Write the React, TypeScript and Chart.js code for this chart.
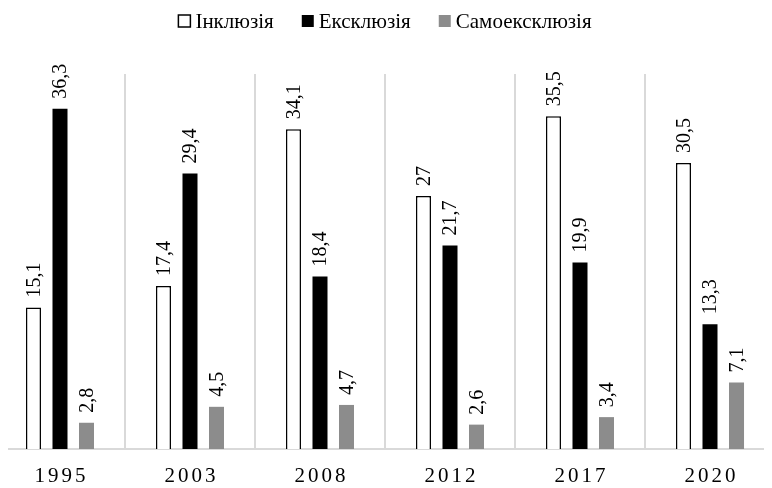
import React, { useEffect, useRef } from "react";
import { Chart, registerables } from "chart.js";

Chart.register(...registerables);

const categories = ["1995", "2003", "2008", "2012", "2017", "2020"];
const seriesNames = ["Інклюзія", "Ексклюзія", "Самоексклюзія"];
const inclusion = [15.1, 17.4, 34.1, 27, 35.5, 30.5];
const exclusion = [36.3, 29.4, 18.4, 21.7, 19.9, 13.3];
const selfExclusion = [2.8, 4.5, 4.7, 2.6, 3.4, 7.1];

const FONT = '"Liberation Serif", "Times New Roman", serif';
const GRAY = "#8c8c8c";
const GRID = "#d9d9d9";

const fmt = (v: number) => String(v).replace(".", ",");

const customPlugin = {
  id: "customDraw",
  afterDraw(chart: any) {
    const ctx = chart.ctx as CanvasRenderingContext2D;
    // data labels
    ctx.save();
    ctx.fillStyle = "#000";
    ctx.font = `20px ${FONT}`;
    ctx.textAlign = "left";
    ctx.textBaseline = "middle";
    chart.data.datasets.forEach((ds: any, di: number) => {
      const meta = chart.getDatasetMeta(di);
      meta.data.forEach((bar: any, i: number) => {
        ctx.save();
        ctx.translate(bar.x + 1, bar.y - 10);
        ctx.rotate(-Math.PI / 2);
        ctx.fillText(fmt(ds.data[i]), 0, 0);
        ctx.restore();
      });
    });
    ctx.restore();

    // x labels with letter spacing
    const xs = chart.scales.x;
    ctx.save();
    ctx.fillStyle = "#000";
    ctx.font = `21px ${FONT}`;
    (ctx as any).letterSpacing = "3px";
    ctx.textAlign = "center";
    ctx.textBaseline = "middle";
    categories.forEach((c, i) => {
      const x = xs.getPixelForTick(i);
      ctx.fillText(c, x + 1.5, chart.chartArea.bottom + 27);
    });
    ctx.restore();

    // legend
    ctx.save();
    ctx.font = `21px ${FONT}`;
    ctx.textBaseline = "middle";
    ctx.textAlign = "left";
    const box = 12;
    const gapText = 5;
    const gapItem = 28;
    const widths = chart.data.datasets.map((ds: any) => box + gapText + ctx.measureText(ds.label).width);
    const total = widths.reduce((a: number, b: number) => a + b, 0) + gapItem * (widths.length - 1);
    let x = (chart.width - total) / 2;
    const cy = 13;
    chart.data.datasets.forEach((ds: any, di: number) => {
      ctx.fillStyle = ds.backgroundColor;
      ctx.fillRect(x, cy - box / 2, box, box);
      if (ds.borderWidth) {
        ctx.strokeStyle = ds.borderColor;
        ctx.lineWidth = 1.5;
        ctx.strokeRect(x, cy - box / 2, box, box);
      }
      ctx.fillStyle = "#000";
      ctx.fillText(ds.label, x + box + gapText, cy + 1);
      x += widths[di] + gapItem;
    });
    ctx.restore();
  },
};

export default function App() {
  const ref = useRef<HTMLCanvasElement>(null);
  useEffect(() => {
    if (!ref.current) return;
    const common = { categoryPercentage: 0.612, barPercentage: 0.566 };
    const chart = new Chart(ref.current, {
      type: "bar",
      data: {
        labels: categories,
        datasets: [
          { label: seriesNames[0], data: inclusion, backgroundColor: "#ffffff", borderColor: "#000000", borderWidth: 1.5, ...common },
          { label: seriesNames[1], data: exclusion, backgroundColor: "#000000", borderWidth: 0, ...common },
          { label: seriesNames[2], data: selfExclusion, backgroundColor: GRAY, borderWidth: 0, ...common },
        ],
      },
      options: {
        responsive: false,
        animation: false,
        devicePixelRatio: 1,
        layout: { padding: { top: 66, left: 0, right: 0, bottom: 0 } },
        plugins: { legend: { display: false }, tooltip: { enabled: false } },
        scales: {
          x: {
            grid: { display: true, color: GRID, lineWidth: 2, drawTicks: false, offset: true },
            border: { display: true, color: GRID, width: 2 },
            ticks: { display: false },
            afterFit: (s: any) => { s.height = 39; },
          },
          y: { display: false, min: 0, max: 40 },
        },
      },
      plugins: [customPlugin],
    });
    return () => chart.destroy();
  }, []);
  return (
    <div style={{ width: 764, height: 480, overflow: "hidden" }}>
      <canvas ref={ref} width={780} height={480} style={{ marginLeft: -13, display: "block" }} />
    </div>
  );
}
